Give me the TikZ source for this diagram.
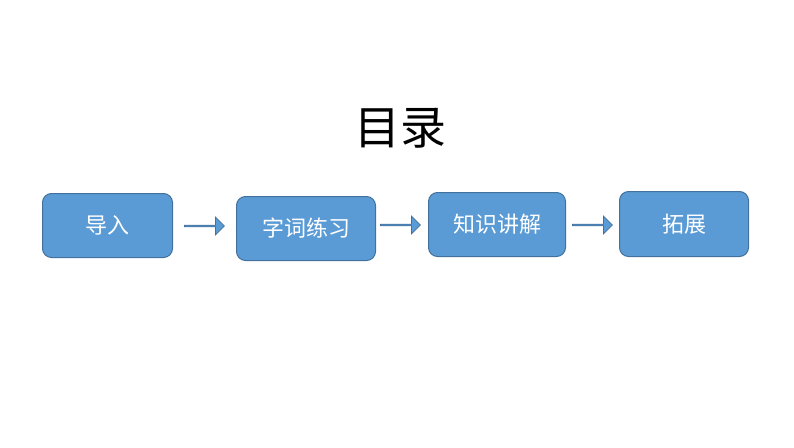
\documentclass[tikz,border=0pt]{standalone}
\usepackage{fontspec}
\newfontfamily\cjk{Noto Sans CJK SC}
\usetikzlibrary{shapes.arrows}
\definecolor{boxblue}{HTML}{5B9BD5}
\definecolor{edgeblue}{HTML}{41719C}
\tikzset{
  stepbox/.style={draw=edgeblue, line width=1pt, fill=boxblue, rounded corners=9pt, text=white, font=\cjk\fontsize{22}{24}\selectfont, inner sep=0pt, anchor=north west},
  blockarrow/.style={single arrow, draw=edgeblue, fill=boxblue, line width=0.8pt, minimum height=40pt, single arrow head extend=4pt, minimum width=18pt, inner sep=0pt, anchor=west}
}
\begin{document}
\begin{tikzpicture}[x=1pt,y=-1pt]
\useasboundingbox (0,0) rectangle (794,447);
\node[font=\cjk\fontsize{46}{50}\selectfont] (title) at (400,128) {目录};
\node[stepbox, minimum width=130pt, minimum height=64pt] (a) at (42,193) {导入};
\node[stepbox, minimum width=139pt, minimum height=64pt] (b) at (236,196) {字词练习};
\node[stepbox, minimum width=137pt, minimum height=64pt] (c) at (428,192) {知识讲解};
\node[stepbox, minimum width=129pt, minimum height=65pt] (d) at (619,191) {拓展};
\node[blockarrow] (ab) at (184,226) {};
\node[blockarrow] (bc) at (380,225) {};
\node[blockarrow] (cd) at (572,225) {};
\end{tikzpicture}
\end{document}
